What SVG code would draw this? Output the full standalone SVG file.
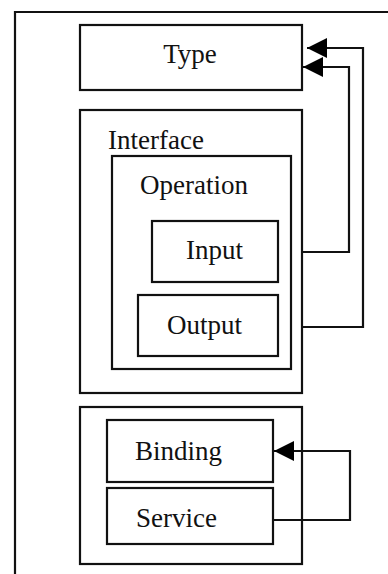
<svg xmlns="http://www.w3.org/2000/svg" width="388" height="574" viewBox="0 0 388 574">
<style>
.box{fill:none;stroke:#111;stroke-width:2.2}
.t{font-family:"Liberation Serif","Times New Roman",serif;font-size:27px;fill:#111}
.c{fill:none;stroke:#111;stroke-width:2.2;marker-end:url(#ah)}
</style>
<defs>
<marker id="ah" markerUnits="userSpaceOnUse" markerWidth="20" markerHeight="20" refX="20" refY="10" orient="auto" overflow="visible">
<path d="M0,0 L20,10 L0,20 Z" fill="#000"/>
</marker>
</defs>
<rect width="388" height="574" fill="#fff"/>
<g id="frame"><path class="box" d="M15,574 V12 H388"/></g>
<g id="type"><rect class="box" x="80" y="25" width="222" height="65"/><text class="t" x="190" y="63" text-anchor="middle">Type</text></g>
<g id="interface"><rect class="box" x="80" y="110" width="222" height="283"/><text class="t" x="108" y="149">Interface</text></g>
<g id="operation"><rect class="box" x="112" y="156" width="179" height="213"/><text class="t" x="140" y="194">Operation</text></g>
<g id="input"><rect class="box" x="152" y="221" width="126" height="61"/><text class="t" x="186" y="259">Input</text></g>
<g id="output"><rect class="box" x="138" y="295" width="140" height="61"/><text class="t" x="167" y="334">Output</text></g>
<g id="group2"><rect class="box" x="80" y="407" width="222" height="157"/></g>
<g id="binding"><rect class="box" x="107" y="420" width="166" height="62"/><text class="t" x="135" y="460">Binding</text></g>
<g id="service"><rect class="box" x="107" y="488" width="166" height="56"/><text class="t" x="136" y="527">Service</text></g>
<g id="connectors">
<path class="c" d="M302,327 H363 V48 H307"/>
<path class="c" d="M302,252 H349 V67 H303"/>
<path class="c" d="M273,520 H350 V451 H274"/>
</g>
</svg>
